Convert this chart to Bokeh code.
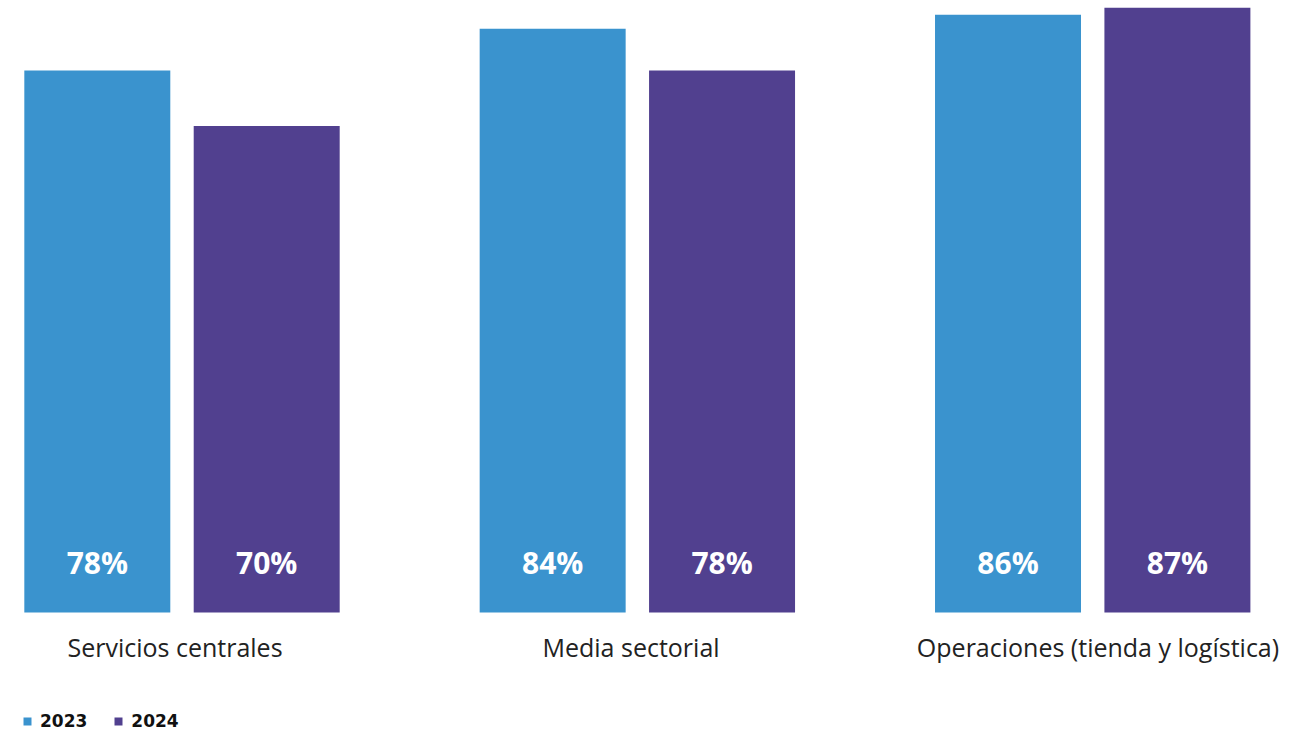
from bokeh.plotting import figure
from bokeh.models import Range1d, ColumnDataSource, Legend, LegendItem
from bokeh.core.properties import value
from bokeh.embed import file_html
from bokeh.resources import INLINE

categories = ["Servicios centrales", "Media sectorial", "Operaciones (tienda y logística)"]
years = ["2023", "2024"]
values_2023 = [78, 84, 86]
values_2024 = [70, 78, 87]

colors = {"2023": "#3A93CE", "2024": "#51408F"}

p = figure(width=1309, height=733, output_backend="svg", toolbar_location=None,
           x_range=Range1d(-0.3986, 2.4761), y_range=Range1d(-17.41, 88.06),
           min_border_left=0, min_border_right=0, min_border_top=0, min_border_bottom=0)
p.outline_line_color = None
p.grid.visible = False
p.axis.visible = False
p.background_fill_color = "white"
p.border_fill_color = "white"

idx = list(range(len(categories)))
dodge = 0.186
bw = 0.3206

src23 = ColumnDataSource(dict(x=[i - dodge for i in idx], top=values_2023,
                              lab=[f"{v}%" for v in values_2023]))
src24 = ColumnDataSource(dict(x=[i + dodge for i in idx], top=values_2024,
                              lab=[f"{v}%" for v in values_2024]))

r23 = p.vbar(x="x", top="top", width=bw, bottom=0, source=src23,
             fill_color=colors["2023"], line_color=None)
r24 = p.vbar(x="x", top="top", width=bw, bottom=0, source=src24,
             fill_color=colors["2024"], line_color=None)

label_y = 7.25
for src in (src23, src24):
    p.text(x="x", y=label_y, text="lab", source=src, text_color="white",
           text_font=value("Open Sans"), text_font_style="bold", text_font_size="30px",
           text_align="center", text_baseline="middle")

# category labels below the bars (small optical offsets relative to group centres)
tick_shift = [-0.0154, -0.0139, 0.0116]
cat_src = ColumnDataSource(dict(x=[i + s for i, s in zip(idx, tick_shift)], name=categories))
p.text(x="x", y=-4.91, text="name", source=cat_src, text_color="#222222",
       text_font=value("Open Sans"), text_font_size="25px",
       text_align="center", text_baseline="middle")

legend = Legend(items=[LegendItem(label="2023", renderers=[r23]),
                       LegendItem(label="2024", renderers=[r24])],
                orientation="horizontal", location=(22, 2),
                glyph_width=10, glyph_height=10, label_height=10,
                label_standoff=8, spacing=26, padding=0, margin=0,
                border_line_color=None, background_fill_alpha=0,
                label_text_font="DejaVu Sans", label_text_font_style="bold",
                label_text_font_size="17px", label_text_color="#111111")
p.add_layout(legend, "center")

open("out.html", "w").write(file_html(p, INLINE))
